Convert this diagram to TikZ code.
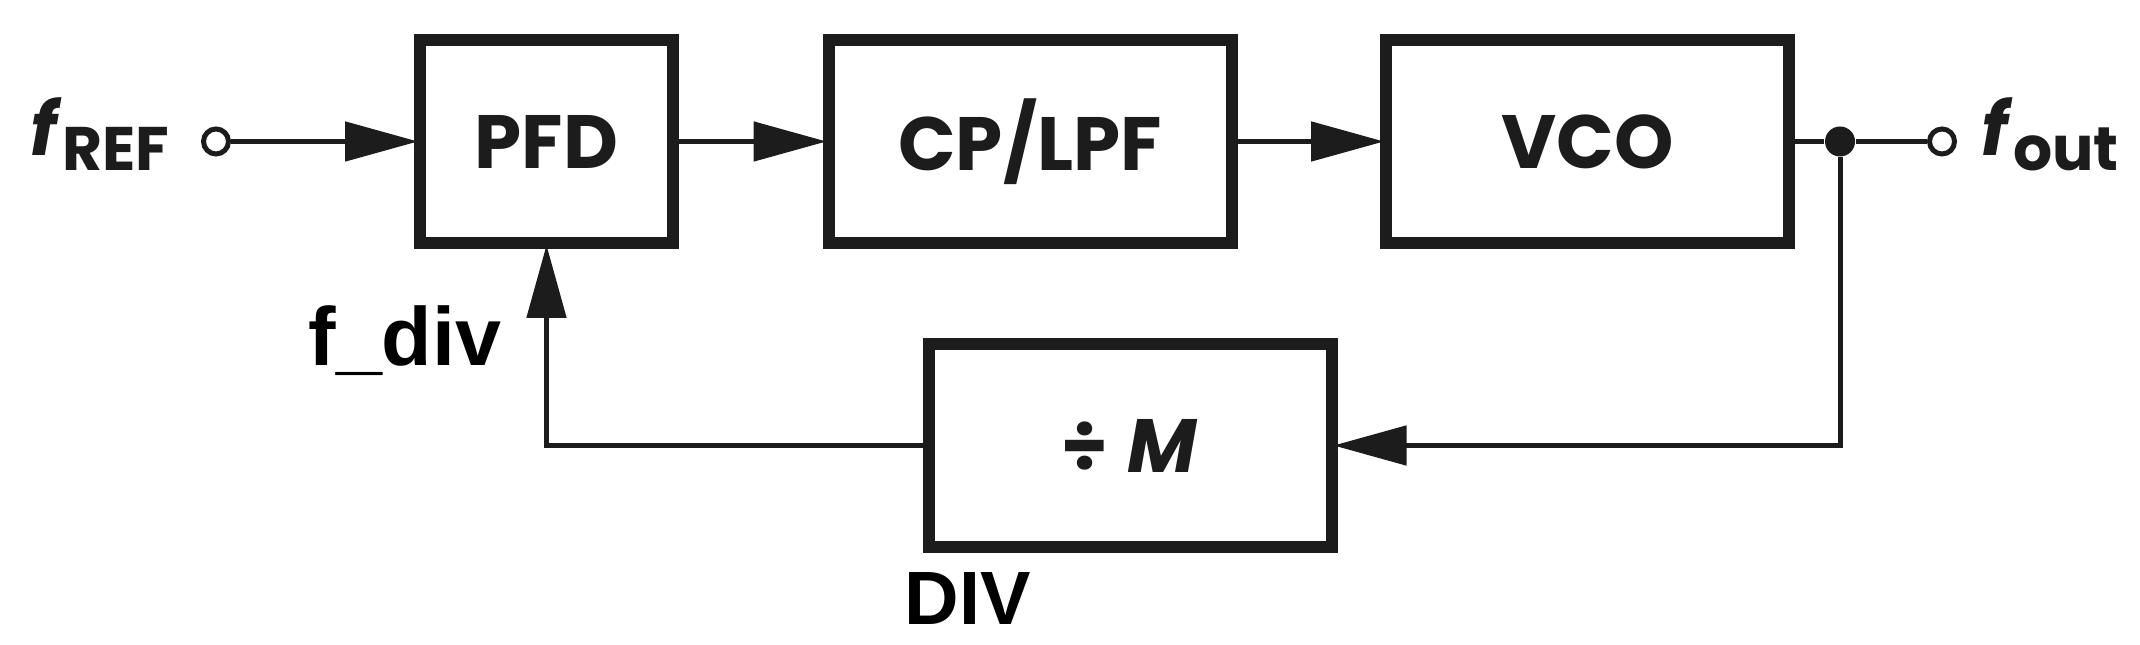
\documentclass[tikz,border=0pt]{standalone}
\usepackage{fontspec}
\setmainfont{Poppins}
\newfontfamily\notefont{Liberation Sans}
\usepackage{xcolor}
\usetikzlibrary{arrows.meta,positioning}
\definecolor{ink}{HTML}{1C1C1C}

\begin{document}
\begin{tikzpicture}
        \tikzset{block/.style={draw=ink, text=ink, line width=0.12cm,
                minimum width=4.03cm, minimum height=2.03cm,
                font=\fontsize{21.5}{24}\selectfont\bfseries},
            port/.style={draw=ink, circle, fill=white, line width=0.05cm,
                minimum size=0.25cm, inner sep=0pt},
            tap/.style={circle, fill=ink, minimum size=0.30cm, inner sep=0pt},
            sig/.style={draw=ink, line width=0.05cm},
            tip/.style={-{Triangle[length=0.73cm,width=0.39cm]}, shorten >=-0.04cm},
            sym/.style={inner sep=0pt, text=ink,
                font=\fontsize{21}{24}\selectfont\bfseries},
            note/.style={inner sep=0pt, font=\notefont\bfseries}}
        \useasboundingbox (0,0) rectangle (21.40,6.44);
        \node[block, minimum width=2.53cm] (pfd) at (5.465,5.025) {PFD};
        \node[block] (cplpf) at (10.30,5.025) {CP/LPF};
        \node[block] (vco) at (15.875,5.025) {VCO};
        \node[block] (div) at (11.30,1.985) {÷\hspace{0.2cm}\textit{M}};
        \node[port] (fin) at (2.16,5.025) {};
        \node[tap] (split) at (18.40,5.025) {};
        \node[port] (fo) at (19.42,5.025) {};
        \node[sym, anchor=base east] (fref) at ([xshift=-0.31cm,yshift=-0.14cm]fin.west)
            {\textit{f}\raisebox{-0.15cm}{\fontsize{17.5}{18}\selectfont REF}};
        \node[sym, anchor=base west] (fout) at ([xshift=0.24cm,yshift=-0.14cm]fo.east)
            {\textit{f}\raisebox{-0.15cm}{\fontsize{17.5}{18}\selectfont out}};
        \node[note, anchor=base east, font=\notefont\fontsize{23.5}{26}\selectfont\bfseries]
            (fdiv) at (5.02,2.78) {f\_div};
        \node[note, anchor=base west, font=\notefont\fontsize{21.5}{24}\selectfont\bfseries]
            (divname) at (9.04,0.20) {DIV};
        \draw[sig,tip] (fin) -- (pfd);
        \draw[sig,tip] (pfd) -- (cplpf);
        \draw[sig,tip] (cplpf) -- (vco);
        \draw[sig] (vco) -- (split) -- (fo);
        \draw[sig,tip] (split) |- (div);
        \draw[sig,tip] (div) -| (pfd);
    \end{tikzpicture}
\end{document}
